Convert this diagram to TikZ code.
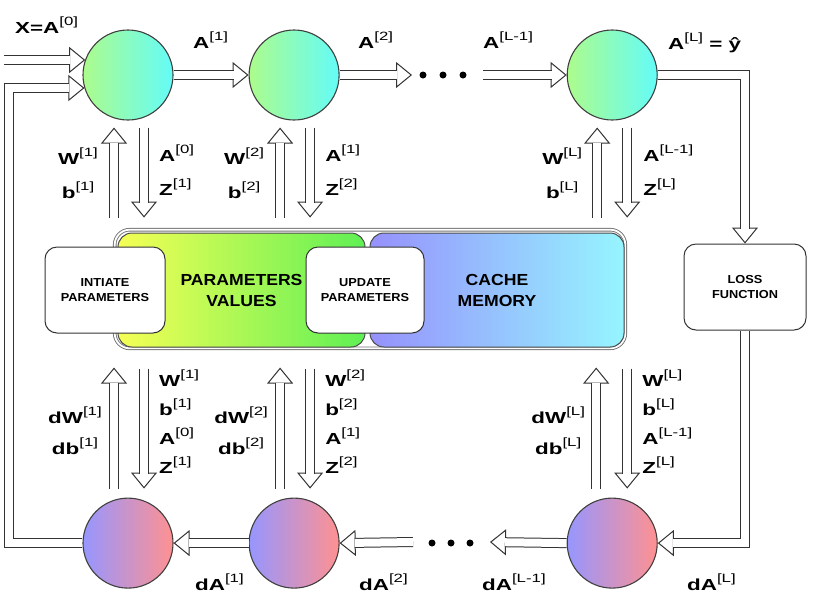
\documentclass[tikz,border=0pt]{standalone}
\usepackage{fontspec}
\setmainfont{Liberation Sans}
\newfontfamily\lblfont[FakeStretch=1.4]{Liberation Sans}
\newfontfamily\boxfont[FakeStretch=1.1]{Liberation Sans}
\usetikzlibrary{positioning,calc,arrows.meta}
\definecolor{fwdL}{RGB}{172,252,140}
\definecolor{fwdR}{RGB}{100,252,248}
\definecolor{bwdL}{RGB}{150,150,255}
\definecolor{bwdR}{RGB}{255,145,145}
\definecolor{parL}{RGB}{245,255,85}
\definecolor{parR}{RGB}{95,240,85}
\definecolor{cacL}{RGB}{150,145,252}
\definecolor{cacR}{RGB}{150,245,255}
\tikzset{
  neuron/.style={circle, draw=black!75, line width=1.1pt, minimum size=90pt, inner sep=0pt},
  fwd neuron/.style={neuron, left color=fwdL, right color=fwdR},
  bwd neuron/.style={neuron, left color=bwdL, right color=bwdR},
  memory frame/.style={rounded corners=15pt, draw=black!55, double=white, double distance=1.8pt, line width=0.9pt, minimum width=510.6pt, minimum height=118.6pt},
  memory/.style={rounded corners=14pt, draw=black!70, line width=1pt, align=center, font=\boxfont\bfseries\fontsize{16}{21}\selectfont, minimum height=114pt},
  action box/.style={rounded corners=12pt, draw=black!80, fill=white, line width=1pt, align=center, font=\boxfont\bfseries\fontsize{11.6}{15.5}\selectfont, minimum height=86pt},
  lbl/.style={font=\lblfont\bfseries\fontsize{16}{19}\selectfont, inner sep=0pt},
  fat arrow/.style={draw=black!80, line width=1pt, -{Triangle[open,fill=white,length=16pt,width=26pt]}, postaction={draw, double=white, double distance=8pt, shorten >=15pt, -}},
  ellipsis dot/.style={circle, fill=black, inner sep=0pt, minimum size=7pt},
}
\newcommand{\lyr}[2]{#1\raisebox{8pt}{\mdseries\fontsize{12}{12}\selectfont[#2]}}

\begin{document}
\begin{tikzpicture}[x=1pt,y=-1pt]
\useasboundingbox (0,0) rectangle (813,606);
% the memory
\node [memory frame] (frame) at (370,289) {};
\node [memory, left color=parL, right color=parR, minimum width=247pt] (params) at (241.5,290) {PARAMETERS\\VALUES};
\node [memory, left color=cacL, right color=cacR, minimum width=254pt] (cache) at (497,290) {CACHE\\MEMORY};
\node [action box, minimum width=120pt] (init) at (105,290) {INTIATE\\PARAMETERS};
\node [action box, minimum width=118pt] (update) at (365,290) {UPDATE\\PARAMETERS};
\node [action box, minimum width=122pt] (loss) at (745,287) {LOSS\\FUNCTION};
% the nodes
\node [fwd neuron] (f1) at (128,75) {};
\node [fwd neuron, right=75pt of f1] (f2) {};
\node [fwd neuron, right=227pt of f2] (fL) {};
\node [bwd neuron, below=377pt of f1] (b1) {};
\node [bwd neuron, below=377pt of f2] (b2) {};
\node [bwd neuron, below=377pt of fL] (bL) {};
\node [ellipsis dot] (fd1) at (423,75) {};
\node [ellipsis dot] (fd2) at (443,75) {};
\node [ellipsis dot] (fd3) at (463,75) {};
\node [ellipsis dot] (bd1) at (432,543) {};
\node [ellipsis dot] (bd2) at (451,543) {};
\node [ellipsis dot] (bd3) at (470,543) {};
\coordinate (xin) at (4,60);
\coordinate (loop) at (8.5,88);
\coordinate (fout) at (412,75);
\coordinate (fin) at (483,75);
\coordinate (bout) at (490,542);
\coordinate (bin) at (413,542);
%drawings of vectors
\draw [fat arrow] (xin) -- (xin -| f1.160);
\draw [fat arrow] (b1.west) -| (loop) -- (loop -| f1.197);
\draw [fat arrow] (f1.east) -- (f2.west);
\draw [fat arrow] (f2.east) -- (fout);
\draw [fat arrow] (fin) -- (fL.west);
\draw [fat arrow] (fL.east) -| (loss.north);
\draw [fat arrow] (loss.south) |- (bL.east);
\draw [fat arrow] (bL.west) -- (bout);
\draw [fat arrow] (bin) -- (b2.east);
\draw [fat arrow] (b2.west) -- (b1.east);

\draw [fat arrow] ($(f1.south)+(-14,97)$) -- ($(f1.south)+(-14,7)$);
\draw [fat arrow] ($(f1.south)+(16,7)$) -- ($(f1.south)+(16,97)$);
\draw [fat arrow] ($(f2.south)+(-14,97)$) -- ($(f2.south)+(-14,7)$);
\draw [fat arrow] ($(f2.south)+(16,7)$) -- ($(f2.south)+(16,97)$);
\draw [fat arrow] ($(fL.south)+(-15,97)$) -- ($(fL.south)+(-15,7)$);
\draw [fat arrow] ($(fL.south)+(15,7)$) -- ($(fL.south)+(15,97)$);

\draw [fat arrow] ($(b1.north)+(-14,-9)$) -- ($(b1.north)+(-14,-130)$);
\draw [fat arrow] ($(b1.north)+(16,-129)$) -- ($(b1.north)+(16,-9)$);
\draw [fat arrow] ($(b2.north)+(-14,-9)$) -- ($(b2.north)+(-14,-130)$);
\draw [fat arrow] ($(b2.north)+(16,-129)$) -- ($(b2.north)+(16,-9)$);
\draw [fat arrow] ($(bL.north)+(-16,-9)$) -- ($(bL.north)+(-16,-130)$);
\draw [fat arrow] ($(bL.north)+(15,-129)$) -- ($(bL.north)+(15,-9)$);
% the labels
\node [lbl, anchor=base west] (hx) at (15,33) {X=\lyr{A}{0}};
\node [lbl, anchor=base west] (ha1) at (193,48) {\lyr{A}{1}};
\node [lbl, anchor=base west] (ha2) at (358,48) {\lyr{A}{2}};
\node [lbl, anchor=base west] (haL1) at (483,48) {\lyr{A}{L-1}};
\node [lbl, anchor=base west] (haL) at (668,49) {\lyr{A}{L} = ŷ};

\node [lbl, anchor=base] (tw1) at ($(f1)+(-50,89)$) {\lyr{W}{1}};
\node [lbl, anchor=base] (tb1) at ($(f1)+(-50,123)$) {\lyr{b}{1}};
\node [lbl, anchor=base west] (ta0) at ($(f1)+(31,86)$) {\lyr{A}{0}};
\node [lbl, anchor=base west] (tz1) at ($(f1)+(31,120)$) {\lyr{Z}{1}};
\node [lbl, anchor=base] (tw2) at ($(f2)+(-50,89)$) {\lyr{W}{2}};
\node [lbl, anchor=base] (tb2) at ($(f2)+(-50,123)$) {\lyr{b}{2}};
\node [lbl, anchor=base west] (ta1) at ($(f2)+(31,86)$) {\lyr{A}{1}};
\node [lbl, anchor=base west] (tz2) at ($(f2)+(31,120)$) {\lyr{Z}{2}};
\node [lbl, anchor=base] (twL) at ($(fL)+(-50,89)$) {\lyr{W}{L}};
\node [lbl, anchor=base] (tbL) at ($(fL)+(-50,123)$) {\lyr{b}{L}};
\node [lbl, anchor=base west] (taL1) at ($(fL)+(31,86)$) {\lyr{A}{L-1}};
\node [lbl, anchor=base west] (tzL) at ($(fL)+(31,120)$) {\lyr{Z}{L}};

\node [lbl, anchor=base] (dw1) at ($(b1)+(-53,-120)$) {\lyr{dW}{1}};
\node [lbl, anchor=base] (db1) at ($(b1)+(-53,-89)$) {\lyr{db}{1}};
\node [lbl, anchor=base west] (bw1) at ($(b1)+(31,-157)$) {\lyr{W}{1}};
\node [lbl, anchor=base west] (bb1) at ($(b1)+(31,-128)$) {\lyr{b}{1}};
\node [lbl, anchor=base west] (ba0) at ($(b1)+(31,-99)$) {\lyr{A}{0}};
\node [lbl, anchor=base west] (bz1) at ($(b1)+(31,-70)$) {\lyr{Z}{1}};
\node [lbl, anchor=base] (dw2) at ($(b2)+(-53,-120)$) {\lyr{dW}{2}};
\node [lbl, anchor=base] (db2) at ($(b2)+(-53,-89)$) {\lyr{db}{2}};
\node [lbl, anchor=base west] (bw2) at ($(b2)+(31,-157)$) {\lyr{W}{2}};
\node [lbl, anchor=base west] (bb2) at ($(b2)+(31,-128)$) {\lyr{b}{2}};
\node [lbl, anchor=base west] (ba1) at ($(b2)+(31,-99)$) {\lyr{A}{1}};
\node [lbl, anchor=base west] (bz2) at ($(b2)+(31,-70)$) {\lyr{Z}{2}};
\node [lbl, anchor=base] (dwL) at ($(bL)+(-54,-120)$) {\lyr{dW}{L}};
\node [lbl, anchor=base] (dbL) at ($(bL)+(-54,-89)$) {\lyr{db}{L}};
\node [lbl, anchor=base west] (bwL) at ($(bL)+(30,-157)$) {\lyr{W}{L}};
\node [lbl, anchor=base west] (bbL) at ($(bL)+(30,-128)$) {\lyr{b}{L}};
\node [lbl, anchor=base west] (baL1) at ($(bL)+(30,-99)$) {\lyr{A}{L-1}};
\node [lbl, anchor=base west] (bzL) at ($(bL)+(30,-70)$) {\lyr{Z}{L}};

\node [lbl, anchor=base west] (hd1) at (195,590) {\lyr{dA}{1}};
\node [lbl, anchor=base west] (hd2) at (359,590) {\lyr{dA}{2}};
\node [lbl, anchor=base west] (hdL1) at (482,590) {\lyr{dA}{L-1}};
\node [lbl, anchor=base west] (hdL) at (687,590) {\lyr{dA}{L}};
\end{tikzpicture}
\end{document}
